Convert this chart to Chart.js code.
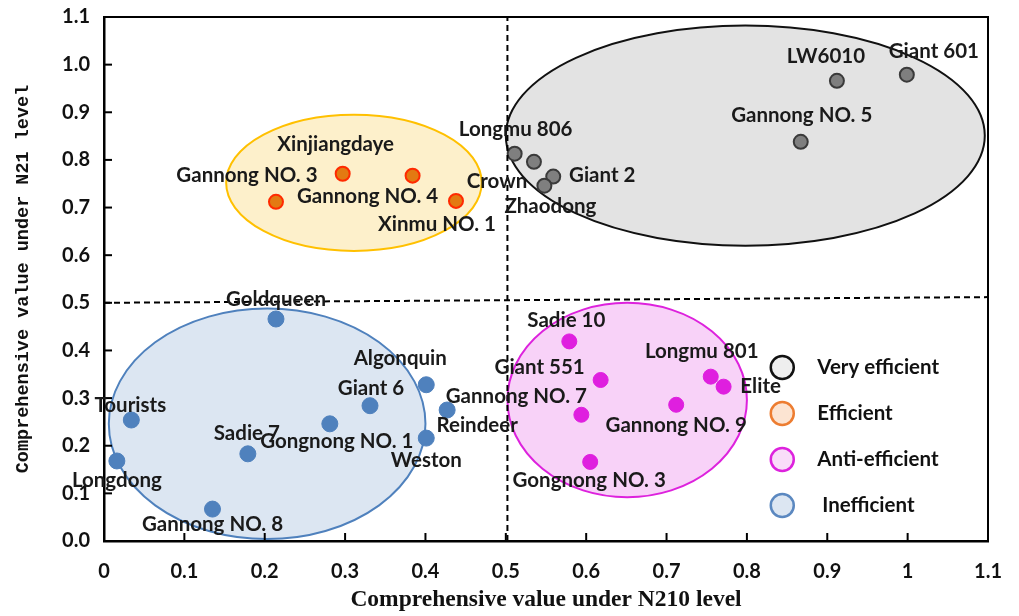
<!DOCTYPE html>
<html>
<head>
<meta charset="utf-8">
<script src="https://cdn.jsdelivr.net/npm/chart.js@4.4.1/dist/chart.umd.min.js"></script>
<style>
  html, body { margin: 0; padding: 0; background: #fff; }
  #wrap { width: 1019px; height: 616px; position: relative; }
</style>
</head>
<body>
<div id="wrap"><canvas id="chart"></canvas></div>
<script>
// cultivar groups: N210 value (x) and N21 value (y)
const veryNames = ['Longmu 806', 'Crown', 'Giant 2', 'Zhaodong', 'LW6010', 'Giant 601', 'Gannong NO. 5'];
const veryX = [0.511, 0.535, 0.559, 0.548, 0.912, 0.999, 0.867];
const veryY = [0.813, 0.796, 0.765, 0.746, 0.966, 0.979, 0.838];

const effNames = ['Gannong NO. 3', 'Xinjiangdaye', 'Gannong NO. 4', 'Xinmu NO. 1'];
const effX = [0.214, 0.297, 0.384, 0.438];
const effY = [0.712, 0.771, 0.767, 0.714];

const antiNames = ['Sadie 10', 'Giant 551', 'Gannong NO. 7', 'Gongnong NO. 3', 'Gannong NO. 9', 'Longmu 801', 'Elite'];
const antiX = [0.579, 0.618, 0.594, 0.605, 0.712, 0.755, 0.771];
const antiY = [0.419, 0.338, 0.265, 0.166, 0.286, 0.345, 0.324];

const ineffNames = ['Goldqueen', 'Tourists', 'Longdong', 'Sadie 7', 'Gannong NO. 8', 'Gongnong NO. 1', 'Giant 6', 'Algonquin', 'Reindeer', 'Weston'];
const ineffX = [0.214, 0.034, 0.016, 0.179, 0.135, 0.281, 0.331, 0.401, 0.427, 0.401];
const ineffY = [0.466, 0.254, 0.168, 0.183, 0.067, 0.246, 0.284, 0.328, 0.275, 0.216];

// cluster ellipses: centre and radii in axis units
const ellipseCx = [0.798, 0.311, 0.651, 0.203];
const ellipseCy = [0.851, 0.752, 0.296, 0.246];
const ellipseRx = [0.298, 0.159, 0.149, 0.197];
const ellipseRy = [0.231, 0.143, 0.204, 0.242];

const legendNames = ['Very efficient', 'Efficient', 'Anti-efficient', ' Inefficient'];

const splitX = 0.502;
const splitY = [0.5, 0.512];

// label offsets in px from the point
const labelOffset = {
  'Gannong NO. 3': [-29, -26], 'Xinjiangdaye': [-7, -29], 'Gannong NO. 4': [-45, 21], 'Xinmu NO. 1': [-19, 24],
  'Longmu 806': [1, -24], 'Crown': [-37, 20], 'Giant 2': [49, -1], 'Zhaodong': [6, 21],
  'LW6010': [-11, -24], 'Giant 601': [27, -23], 'Gannong NO. 5': [1, -26],
  'Goldqueen': [0, -20], 'Tourists': [-1, -15], 'Longdong': [0, 19], 'Sadie 7': [-1, -20],
  'Gannong NO. 8': [0, 15], 'Gongnong NO. 1': [7, 18], 'Giant 6': [1, -17], 'Algonquin': [-26, -26],
  'Reindeer': [30, 15], 'Weston': [0, 22],
  'Sadie 10': [-3, -21], 'Giant 551': [-61, -13], 'Gannong NO. 7': [-65, -18], 'Gongnong NO. 3': [-1, 18],
  'Gannong NO. 9': [0, 21], 'Longmu 801': [-9, -25], 'Elite': [37, 0]
};

const groupStyle = [
  { fill: '#E3E3E3', stroke: '#111111', lfill: '#EEEEEE', lstroke: '#111111' },
  { fill: '#FDF0CB', stroke: '#FFC000', lfill: '#FCE4D2', lstroke: '#ED7D31' },
  { fill: '#F8D2F8', stroke: '#DD22DD', lfill: '#F9DDF9', lstroke: '#DD22DD' },
  { fill: '#DCE6F2', stroke: '#4F81BD', lfill: '#DCE6F2', lstroke: '#5B88C0' }
];

function pts(xs, ys) { return xs.map((x, i) => ({ x: x, y: ys[i] })); }

const ellipsePlugin = {
  id: 'ellipses',
  beforeDatasetsDraw(chart) {
    const { ctx, scales: { x, y } } = chart;
    ctx.save();
    ellipseCx.forEach((cx, i) => {
      const px = x.getPixelForValue(cx), py = y.getPixelForValue(ellipseCy[i]);
      const rx = x.getPixelForValue(cx + ellipseRx[i]) - px;
      const ry = py - y.getPixelForValue(ellipseCy[i] + ellipseRy[i]);
      ctx.beginPath();
      ctx.ellipse(px, py, rx, ry, 0, 0, Math.PI * 2);
      ctx.fillStyle = groupStyle[i].fill;
      ctx.fill();
      ctx.lineWidth = 2;
      ctx.strokeStyle = groupStyle[i].stroke;
      ctx.stroke();
    });
    ctx.restore();
  }
};

const framePlugin = {
  id: 'frame',
  afterDatasetsDraw(chart) {
    const { ctx, chartArea: a, scales: { x, y } } = chart;
    ctx.save();
    ctx.strokeStyle = '#000';
    ctx.lineWidth = 2;
    ctx.beginPath();
    ctx.moveTo(a.left, a.top); ctx.lineTo(a.right, a.top); ctx.lineTo(a.right, a.bottom);
    ctx.stroke();
    // inward tick marks
    x.ticks.forEach(t => {
      const p = x.getPixelForValue(t.value);
      ctx.beginPath(); ctx.moveTo(p, a.bottom); ctx.lineTo(p, a.bottom - 8); ctx.stroke();
    });
    y.ticks.forEach(t => {
      const p = y.getPixelForValue(t.value);
      ctx.beginPath(); ctx.moveTo(a.left, p); ctx.lineTo(a.left + 8, p); ctx.stroke();
    });
    ctx.restore();
  }
};

const labelPlugin = {
  id: 'pointLabels',
  afterDatasetsDraw(chart) {
    const { ctx } = chart;
    ctx.save();
    ctx.font = 'bold 20.5px Lato';
    ctx.fillStyle = '#1a1a1a';
    ctx.textAlign = 'center';
    ctx.textBaseline = 'middle';
    chart.data.datasets.forEach((ds, di) => {
      if (!ds.names) return;
      const meta = chart.getDatasetMeta(di);
      meta.data.forEach((el, i) => {
        const off = labelOffset[ds.names[i]] || [0, -20];
        ctx.fillText(ds.names[i], el.x + off[0], el.y + off[1]);
      });
    });
    ctx.restore();
  }
};

const legendPlugin = {
  id: 'cornerLegend',
  afterDraw(chart) {
    const { ctx, scales: { x, y } } = chart;
    const cx = x.getPixelForValue(0.844);
    const top = y.getPixelForValue(0.364);
    ctx.save();
    ctx.font = 'bold 20.5px Lato';
    ctx.textBaseline = 'middle';
    ctx.textAlign = 'left';
    legendNames.forEach((name, i) => {
      const cy = top + i * 46;
      ctx.beginPath();
      ctx.arc(cx, cy, 11.5, 0, Math.PI * 2);
      ctx.fillStyle = groupStyle[i].lfill;
      ctx.fill();
      ctx.lineWidth = 2.5;
      ctx.strokeStyle = groupStyle[i].lstroke;
      ctx.stroke();
      ctx.fillStyle = '#111';
      ctx.fillText(name, cx + 35, cy);
    });
    ctx.restore();
  }
};

const dashed = { type: 'line', showLine: true, pointRadius: 0, borderColor: '#000', borderWidth: 2, borderDash: [6, 4], fill: false };

new Chart(document.getElementById('chart'), {
  type: 'scatter',
  data: {
    datasets: [
      Object.assign({ data: [{ x: splitX, y: 0 }, { x: splitX, y: 1.1 }] }, dashed),
      Object.assign({ data: [{ x: 0, y: splitY[0] }, { x: 1.1, y: splitY[1] }] }, dashed),
      { names: veryNames, data: pts(veryX, veryY), pointRadius: 7, backgroundColor: '#7F7F7F', borderColor: '#3A3A3A', borderWidth: 2 },
      { names: effNames, data: pts(effX, effY), pointRadius: 7, backgroundColor: '#E37A12', borderColor: '#FF2A00', borderWidth: 2 },
      { names: antiNames, data: pts(antiX, antiY), pointRadius: 7.5, backgroundColor: '#DF1FDF', borderColor: '#DF1FDF', borderWidth: 1 },
      { names: ineffNames, data: pts(ineffX, ineffY), pointRadius: 8, backgroundColor: '#4F81BD', borderColor: '#4F81BD', borderWidth: 1 }
    ]
  },
  options: {
    responsive: true,
    maintainAspectRatio: false,
    animation: false,
    layout: { padding: { top: 17, right: 31, left: 0, bottom: 0 } },
    plugins: { legend: { display: false }, tooltip: { enabled: false } },
    scales: {
      x: {
        type: 'linear', min: 0, max: 1.1,
        afterFit(s) { s.height = 75; s.paddingLeft = 0; s.paddingRight = 0; },
        grid: { drawOnChartArea: false, drawTicks: false },
        border: { color: '#000', width: 2.5 },
        ticks: {
          stepSize: 0.1, padding: 19, color: '#111',
          font: { family: 'Lato', weight: 'bold', size: 20 },
          callback: v => (Math.abs(v) < 1e-9 ? '0' : Math.abs(v - 1) < 1e-9 ? '1' : v.toFixed(1))
        },
        title: {
          display: true, text: 'Comprehensive value under N210 level', color: '#111',
          font: { family: 'Liberation Serif', weight: 'bold', size: 23.5 },
          padding: { top: 0, bottom: 2 }
        }
      },
      y: {
        type: 'linear', min: 0, max: 1.1,
        afterFit(s) { s.width = 104; s.paddingTop = 0; s.paddingBottom = 0; },
        grid: { drawOnChartArea: false, drawTicks: false },
        border: { color: '#000', width: 2.5 },
        ticks: {
          stepSize: 0.1, padding: 14, color: '#111',
          font: { family: 'Lato', weight: 'bold', size: 20 },
          callback: v => v.toFixed(1)
        },
        title: {
          display: true, text: 'Comprehensive value under N21 level', color: '#111',
          font: { family: 'Liberation Mono', weight: 'bold', size: 18.5 },
          padding: { top: 12, bottom: 0 }
        }
      }
    }
  },
  plugins: [ellipsePlugin, framePlugin, labelPlugin, legendPlugin]
});
</script>
</body>
</html>
